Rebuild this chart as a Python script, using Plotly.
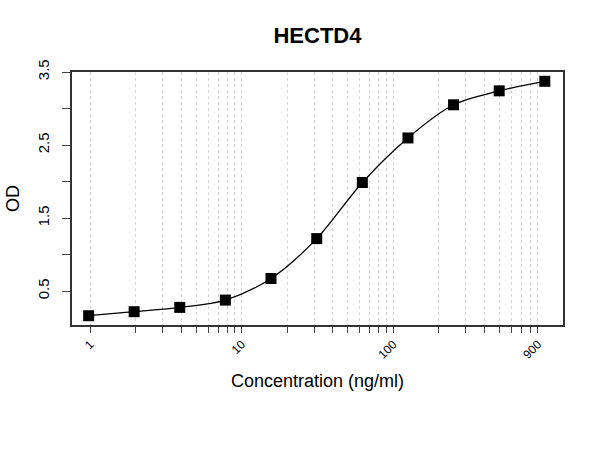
import plotly.graph_objects as go

conc = [0.977, 1.95, 3.9, 7.8, 15.6, 31.25, 62.5, 125, 250, 500, 1000]
od = [0.163, 0.218, 0.277, 0.377, 0.673, 1.219, 1.987, 2.597, 3.051, 3.242, 3.373]

x_tickvals = [1, 2, 3, 4, 5, 6, 7, 8, 9, 10, 20, 30, 40, 50, 60, 70, 80, 90,
              100, 200, 300, 400, 500, 600, 700, 800, 900]
x_label_set = {1: "1", 10: "10", 100: "100", 900: "900"}
x_ticktext = [x_label_set.get(v, "") for v in x_tickvals]

y_tickvals = [0.5, 1.0, 1.5, 2.0, 2.5, 3.0, 3.5]
y_ticktext = ["0.5", "", "1.5", "", "2.5", "", "3.5"]

font = "Liberation Sans, Arial, sans-serif"

fig = go.Figure()
fig.add_trace(go.Scatter(x=conc, y=od, mode="lines",
                         line=dict(color="black", width=1.3, shape="spline", smoothing=0.9),
                         hoverinfo="skip", showlegend=False))
fig.add_trace(go.Scatter(x=conc, y=od, mode="markers",
                         marker=dict(symbol="square", size=11, color="black"),
                         showlegend=False))

fig.update_layout(
    width=600, height=450,
    paper_bgcolor="white", plot_bgcolor="white",
    margin=dict(l=72, r=37, t=72, b=125),
    title=dict(text="<b>HECTD4</b>", x=0.5, xref="paper", xanchor="center",
               y=0.922, yanchor="middle",
               font=dict(family=font, size=22, color="black")),
    font=dict(family=font, color="black"),
)
fig.update_xaxes(type="log", range=[-0.12, 3.12],
                 tickmode="array", tickvals=x_tickvals, ticktext=x_ticktext,
                 tickangle=-45, tickfont=dict(size=12),
                 ticks="outside", ticklen=6, tickcolor="#444", tickwidth=1,
                 showgrid=True, gridcolor="#d3d3d3", griddash="dot", gridwidth=1,
                 showline=True, linecolor="#333", linewidth=1.5, mirror=True,
                 zeroline=False,
                 title=dict(text="Concentration (ng/ml)", font=dict(size=18), standoff=14))
fig.update_yaxes(range=[0.036, 3.5],
                 tickmode="array", tickvals=y_tickvals, ticktext=y_ticktext,
                 tickangle=-90, tickfont=dict(size=15),
                 ticks="outside", ticklen=8, tickcolor="#444", tickwidth=1,
                 ticklabelstandoff=7,
                 showgrid=False,
                 showline=True, linecolor="#333", linewidth=1.5, mirror=True,
                 zeroline=False,
                 title=dict(text="OD", font=dict(size=18), standoff=11))

fig.write_html("out.html", config={"displayModeBar": False},
               post_script="document.body.style.margin='0';document.body.style.padding='0';")
